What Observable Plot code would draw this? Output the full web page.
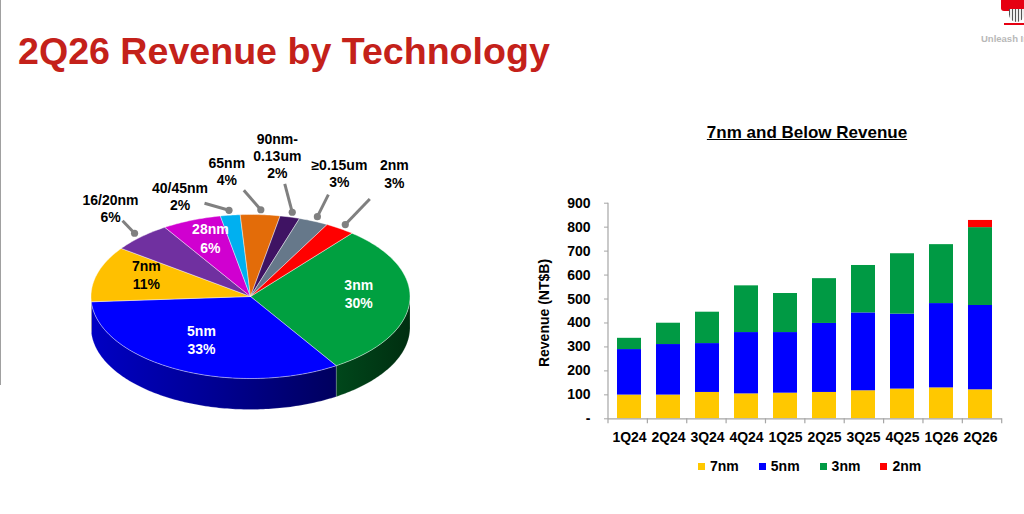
<!DOCTYPE html>
<html><head><meta charset="utf-8">
<script src="https://cdn.jsdelivr.net/npm/d3@7"></script>
<script src="https://cdn.jsdelivr.net/npm/@observablehq/plot@0.6"></script>
<style>
body{margin:0;width:1024px;height:514px;overflow:hidden;background:#fff;position:relative;font-family:"Liberation Sans",Arial,sans-serif;}
.abs{position:absolute;}
#legend{display:flex;align-items:center;font-size:14px;font-weight:bold;line-height:16px;white-space:nowrap}
#legend .sw{width:7px;height:7px;margin-right:5px;display:inline-block}
#legend .it{display:flex;align-items:center;margin-right:20px}
</style></head><body>
<div class="abs" style="left:0;top:0;width:1px;height:385px;background:#a0a0a0"></div>
<div class="abs" style="left:18px;top:33px;font-size:37.6px;line-height:37px;font-weight:bold;color:#C4211A;white-space:nowrap">2Q26 Revenue by Technology</div>
<!-- logo mark (graphic) -->
<div class="abs" style="left:1001px;top:0;width:23px;height:11px;background:#E60012;border-radius:0 0 3px 3px"></div>
<div class="abs" style="left:1009px;top:9px;width:15px;height:13px;border-radius:0 0 8px 8px;background:repeating-linear-gradient(90deg,#555 0 1px,#eee 1px 3px),#ddd"></div>
<div class="abs" style="left:1004px;top:23px;width:20px;height:2px;background:#E60012"></div>
<div class="abs" style="left:981px;top:33px;font-size:9.5px;line-height:11px;font-weight:bold;color:#b8b8b8;white-space:nowrap">Unleash Innovation</div>
<div id="pie" class="abs" style="left:0;top:110px"></div>
<div class="abs" style="left:657px;top:123px;width:300px;text-align:center;font-size:17px;line-height:20px;font-weight:bold;text-decoration:underline;white-space:nowrap">7nm and Below Revenue</div>
<div id="bars" class="abs" style="left:530px;top:110px"></div>
<div id="legend" class="abs" style="left:698px;top:458px"></div>
<script>
// ---------- data ----------
const techNames = ["3nm","5nm","7nm","16/20nm","28nm","40/45nm","65nm","90nm-0.13um","≥0.15um","2nm"];
const techShares = [30,33,11,6,6,2,4,2,3,3];

const quarters = ["1Q24","2Q24","3Q24","4Q24","1Q25","2Q25","3Q25","4Q25","1Q26","2Q26"];
const barSeries = ["7nm","5nm","3nm","2nm"];
const rev7nm = [99,99,110,104,107,110,117,124,129,121];
const rev5nm = [190,211,204,256,253,288,325,313,352,352];
const rev3nm = [47,89,131,195,163,187,198,252,246,325];
const rev2nm = [0,0,0,0,0,0,0,0,0,30];
const yTicks = [0,100,200,300,400,500,600,700,800,900];

// ---------- styles / layout ----------
const font = '"Liberation Sans", Arial, sans-serif';
const topColors = {"3nm":"#00A040","5nm":"#0000FF","7nm":"#FFC000","16/20nm":"#7030A0","28nm":"#D000D0",
  "40/45nm":"#00B0F0","65nm":"#E36C09","90nm-0.13um":"#3F1363","≥0.15um":"#66788A","2nm":"#FF0000"};
const sideColors = {"3nm":"url(#side3)","5nm":"url(#side5)","7nm":"#A07A00","16/20nm":"#3c1a58","28nm":"#700070",
  "40/45nm":"#006080","65nm":"#7a3a05","90nm-0.13um":"#200a33","≥0.15um":"#38424c","2nm":"#8a0000"};
const insideNames = ["3nm","5nm","7nm","28nm"];
const labelInk = {"7nm":"#000"};
const calloutOffset = {"16/20nm":[-24,-25],"40/45nm":[-49,-14],"65nm":[-34,-39],
  "90nm-0.13um":[-15,-57],"≥0.15um":[22,-44],"2nm":[49,-51]};
const barColors = {"7nm":"#FFC800","5nm":"#0000FF","3nm":"#009A44","2nm":"#FF0000"};
const PIE = {w:500, h:320, cx:250, cy:186, rx:159.5, ry:82, depth:31, start:39.5, insideR:0.68, insideLift:-7};

// ---------- pie geometry ----------
const rad = Math.PI/180;
const arcs = d3.pie().sort(null).value(d => d)
  .startAngle(PIE.start*rad).endAngle(PIE.start*rad + 2*Math.PI)(techShares);
const drop = PIE.depth/PIE.ry;
const P = (a, r = 1, dy = 0) => ({x: r*Math.sin(a), y: -r*Math.cos(a) + dy});
function arcPts(a0, a1, dy) {
  const n = Math.max(2, Math.ceil((a1 - a0)/rad));
  return d3.range(n + 1).map(i => P(a0 + (a1 - a0)*i/n, 1, dy));
}
const topPts = [], sidePts = [];
arcs.forEach((arc, i) => {
  const name = techNames[i];
  const c = {x:0, y:0};
  [c, ...arcPts(arc.startAngle, arc.endAngle, 0), c]
    .forEach(p => topPts.push({...p, id: name, fill: topColors[name]}));
  for (const off of [0, 2*Math.PI]) {
    const s = Math.max(arc.startAngle, Math.PI/2 + off), e = Math.min(arc.endAngle, 1.5*Math.PI + off);
    if (e > s) {
      const pts = [...arcPts(s, e, 0), ...arcPts(s, e, drop).reverse()];
      pts.push(pts[0]);
      pts.forEach(p => sidePts.push({...p, id: name + off, fill: sideColors[name]}));
    }
  }
});
const labelText = (name, share) => `${name.replace("-", "-\n")}\n${share}%`;
const slices = arcs.map((a, i) => ({name: techNames[i], share: techShares[i], mid: (a.startAngle + a.endAngle)/2}));
const insideLabels = slices.filter(d => insideNames.includes(d.name))
  .map(d => ({...P(d.mid, PIE.insideR), text: labelText(d.name, d.share), fill: labelInk[d.name] || "#fff"}));
const callouts = slices.filter(d => calloutOffset[d.name]).map(d => {
  const dot = P(d.mid, 1.06);
  const [ox, oy] = calloutOffset[d.name];
  return {x: dot.x, y: dot.y,
    x2: dot.x + 0.5*ox/PIE.rx, y2: dot.y + 0.5*oy/PIE.ry,
    tx: dot.x + ox/PIE.rx, ty: dot.y + oy/PIE.ry,
    text: labelText(d.name, d.share)};
});

const pie = Plot.plot({
  width: PIE.w, height: PIE.h, margin: 0,
  x: {domain: [-PIE.cx/PIE.rx, (PIE.w - PIE.cx)/PIE.rx], range: [0, PIE.w], axis: null},
  y: {domain: [-PIE.cy/PIE.ry, (PIE.h - PIE.cy)/PIE.ry], range: [0, PIE.h], axis: null},
  color: {type: "identity"},
  style: {fontFamily: font, background: "transparent", overflow: "visible", color: "#000"},
  marks: [
    Plot.line(sidePts, {x: "x", y: "y", z: "id", fill: "fill", stroke: "#ffffff", strokeOpacity: 0.3, strokeWidth: 0.6, curve: "linear"}),
    Plot.line(topPts, {x: "x", y: "y", z: "id", fill: "fill", stroke: "#ffffff", strokeOpacity: 0.6, strokeWidth: 0.7, curve: "linear"}),
    Plot.link(callouts, {x1: "x", y1: "y", x2: "x2", y2: "y2", stroke: "#808080", strokeWidth: 3}),
    Plot.dot(callouts, {x: "x", y: "y", r: 3.6, fill: "#808080"}),
    Plot.text(insideLabels, {x: "x", y: "y", dy: PIE.insideLift, text: "text", fill: "fill", fontSize: 14, fontWeight: "bold", lineHeight: 1.3}),
    Plot.text(callouts, {x: "tx", y: "ty", text: "text", fill: "#000", fontSize: 14, fontWeight: "bold", lineHeight: 1.22})
  ]
});
const defs = d3.select(pie).insert("defs", ":first-child");
const grad = (id, stops) => {
  const g = defs.append("linearGradient").attr("id", id).attr("x1", 0).attr("x2", 1).attr("y1", 0).attr("y2", 0);
  stops.forEach(([o, c]) => g.append("stop").attr("offset", o).attr("stop-color", c));
};
grad("side5", [[0, "#0000C4"], [0.45, "#000098"], [1, "#00005E"]]);
grad("side3", [[0, "#00471B"], [1, "#002E10"]]);
document.getElementById("pie").appendChild(pie);

// ---------- bar chart ----------
const revBySeries = {"7nm": rev7nm, "5nm": rev5nm, "3nm": rev3nm, "2nm": rev2nm};
const table = quarters.flatMap((q, i) => barSeries.map(s => ({quarter: q, tech: s, value: revBySeries[s][i]})));

const bars = Plot.plot({
  width: 494, height: 340, marginLeft: 78, marginRight: 22.3, marginTop: 92.7, marginBottom: 31.7,
  x: {domain: quarters, paddingInner: 0.39, paddingOuter: 0.195, label: null},
  y: {domain: [0, 900], label: null},
  color: {domain: barSeries, range: barSeries.map(s => barColors[s])},
  style: {fontFamily: font, background: "transparent", overflow: "visible", color: "#000"},
  marks: [
    Plot.barY(table, {x: "quarter", y: "value", fill: "tech"}),
    Plot.ruleY([0], {stroke: "#A6A6A6", strokeWidth: 1.2}),
    (index, scales, values, dims) => {
      const g = d3.create("svg:g").attr("stroke", "#A6A6A6").attr("stroke-width", 1.2);
      const x0 = dims.marginLeft, x1 = dims.width - dims.marginRight;
      const y0 = scales.y(0), yTop = scales.y(yTicks[yTicks.length - 1]);
      g.append("line").attr("x1", x0).attr("x2", x0).attr("y1", yTop).attr("y2", y0);
      const step = (x1 - x0)/quarters.length;
      for (let i = 0; i <= quarters.length; i++) {
        g.append("line").attr("x1", x0 + i*step).attr("x2", x0 + i*step).attr("y1", y0).attr("y2", y0 + 5);
      }
      return g.node();
    },
    Plot.axisY({ticks: yTicks, tickSize: 4, tickPadding: 14, tickFormat: d => d === 0 ? "-" : d,
      fontSize: 14, fontWeight: "bold", color: "#000", stroke: "#A6A6A6", label: null}),
    Plot.axisX({tickSize: 0, tickPadding: 13, fontSize: 14, fontWeight: "bold", color: "#000", label: null}),
    Plot.text(["Revenue (NT$B)"], {text: d => d, frameAnchor: "left", textAnchor: "middle", lineAnchor: "middle",
      rotate: -90, dx: -63.5, dy: 2, fontSize: 14, fontWeight: "bold", fill: "#000"})
  ]
});
document.getElementById("bars").appendChild(bars);

// ---------- legend ----------
const legend = d3.select("#legend");
barSeries.forEach(s => {
  const it = legend.append("div").attr("class", "it");
  it.append("span").attr("class", "sw").style("background", barColors[s]);
  it.append("span").text(s);
});
</script>
</body></html>
